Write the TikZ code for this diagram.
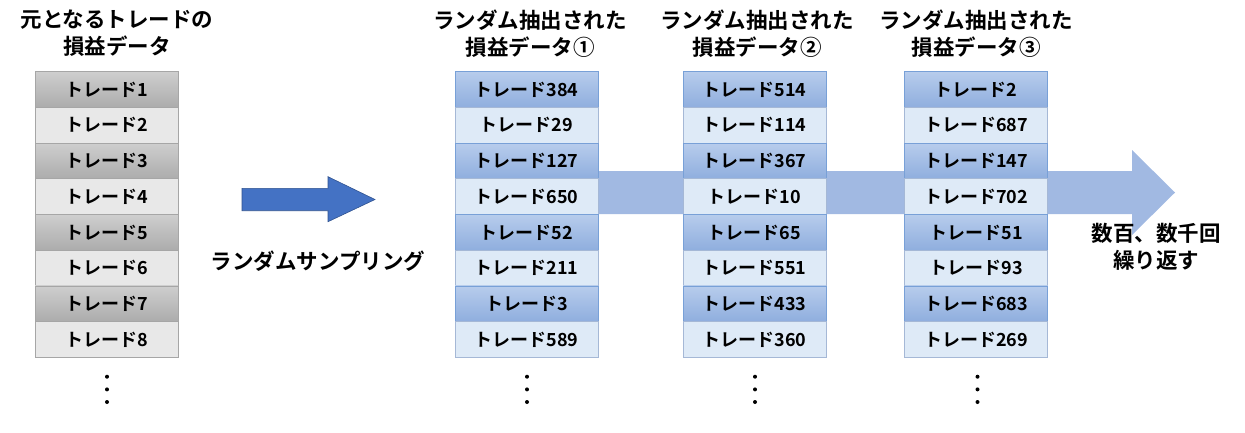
\documentclass[tikz,border=0pt]{standalone}
\usepackage{fontspec}
\setmainfont{Noto Sans CJK JP}[BoldFont={* Bold}]
\usepackage{tikz}
\usetikzlibrary{positioning}
\definecolor{grayTop}{RGB}{206, 206, 206}
\definecolor{grayBot}{RGB}{172, 172, 172}
\definecolor{grayLight}{RGB}{232, 232, 232}
\definecolor{grayLine}{RGB}{166, 166, 166}
\definecolor{blueTop}{RGB}{183, 204, 236}
\definecolor{blueBot}{RGB}{143, 174, 222}
\definecolor{blueLight}{RGB}{222, 234, 247}
\definecolor{blueLine}{RGB}{120, 160, 215}
\definecolor{blueLineLt}{RGB}{165, 184, 214}
\definecolor{flowBlue}{RGB}{161, 185, 226}
\definecolor{sampBlue}{RGB}{68, 114, 196}
\definecolor{sampLine}{RGB}{47, 82, 143}
\newcommand{\cellfont}{\fontsize{18}{20}\selectfont\bfseries}
\newcommand{\titlefont}{\fontsize{21.5}{27}\selectfont\bfseries}
\tikzset{
  cellbase/.style={minimum width=143pt, minimum height=35.7pt, inner sep=0pt,
    font=\cellfont, line width=0.8pt},
  grayA/.style={cellbase, draw=grayLine, top color=grayTop, bottom color=grayBot},
  grayB/.style={cellbase, draw=grayLine, fill=grayLight},
  blueA/.style={cellbase, draw=blueLine, top color=blueTop, bottom color=blueBot},
  blueB/.style={cellbase, draw=blueLineLt, fill=blueLight},
  heading/.style={font=\titlefont, align=center, inner sep=0pt},
  vdot/.style={circle, fill=black, inner sep=0pt, minimum size=4pt}
}

\begin{document}
\begin{tikzpicture}[x=1pt, y=-1pt]
  \useasboundingbox (0,0) rectangle (1245,432);

  % Repeat arrow (behind the sample columns)
  \fill[flowBlue] (560,171) -- (1132,171) -- (1132,150) -- (1175,192.5)
    -- (1132,235) -- (1132,214) -- (560,214) -- cycle;

  % Original trades
  \foreach \v [count=\i] in {1,...,8} {
    \ifodd\i\relax \def\sty{grayA}\else\def\sty{grayB}\fi
    \node[\sty] (L\i) at (106.5, 53.85+35.7*\i) {トレード\v};
  }

  % Sampled columns
  \foreach \col/\cx/\vals in {
      A/526.5/{384,29,127,650,52,211,3,589},
      B/754.5/{514,114,367,10,65,551,433,360},
      C/976/{2,687,147,702,51,93,683,269}} {
    \foreach \v [count=\i] in \vals {
      \ifodd\i\relax \def\sty{blueA}\else\def\sty{blueB}\fi
      \node[\sty] (\col\i) at (\cx, 53.85+35.7*\i) {トレード\v};
    }
  }

  % Headings
  \node[heading] (titleL) at (117, 33.5) {元となるトレードの\\損益データ};
  \node[heading] (titleA) at (530, 33.5) {ランダム抽出された\\損益データ①};
  \node[heading] (titleB) at (757, 33.5) {ランダム抽出された\\損益データ②};
  \node[heading] (titleC) at (976, 33.5) {ランダム抽出された\\損益データ③};

  % Sampling arrow
  \draw[sampLine, fill=sampBlue, line width=0.6pt] (242,188.3) -- (328,188.3)
    -- (328,176.7) -- (375,199.5) -- (328,221.7) -- (328,210.7)
    -- (242,210.7) -- cycle;
  \node[font=\titlefont, inner sep=0pt] (samp) at (318, 261) {ランダムサンプリング};

  % Repeat label
  \node[heading] (rep) at (1156, 246.5) {数百、数千回\\繰り返す};

  % Continuation dots
  \foreach \col/\cx in {L/107, A/527, B/755, C/977.5} {
    \foreach \dy in {376.7, 389.4, 402} {
      \node[vdot] at (\cx, \dy) {};
    }
  }
\end{tikzpicture}
\end{document}
